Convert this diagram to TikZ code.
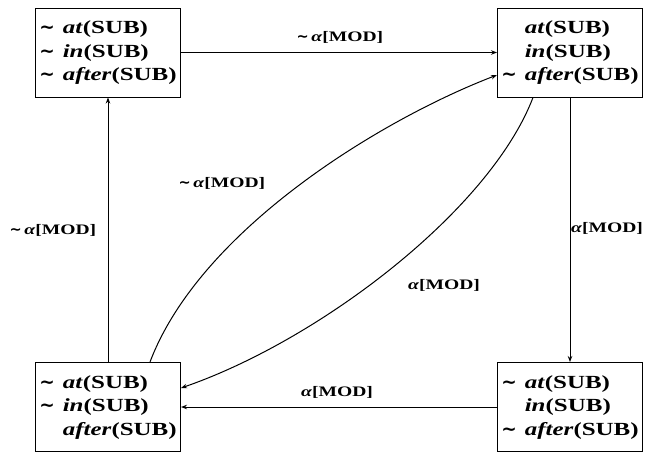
\documentclass[tikz,border=0pt]{standalone}
\usepackage{fontspec}
\setmainfont[FakeStretch=1.35]{Liberation Serif}
\newfontfamily\symf{DejaVu Sans}
\usetikzlibrary{arrows.meta,calc}
\newcommand{\ti}{{\symf\bfseries ∼}}
\tikzset{
  statebox/.style={draw,line width=1pt,minimum width=145pt,minimum height=89pt,inner sep=0pt,
    font=\bfseries\fontsize{18.5}{23.5}\selectfont},
  lab/.style={inner sep=1pt,font=\bfseries\fontsize{14.5}{17}\selectfont},
  arr/.style={line width=1pt,-{Stealth[length=6pt,width=4.5pt]}}
}
\begin{document}
\begin{tikzpicture}[x=1pt,y=-1pt]
\useasboundingbox (0,0) rectangle (648,456);
\node[statebox] (tl) at (108,52.5) {\begin{tabular}{@{}l@{\hspace{8pt}}l@{}}
\ti & \textit{at}(SUB)\\ \ti & \textit{in}(SUB)\\ \ti & \textit{after}(SUB)\end{tabular}};
\node[statebox] (tr) at (570,52.5) {\begin{tabular}{@{}l@{\hspace{8pt}}l@{}}
 & \textit{at}(SUB)\\ & \textit{in}(SUB)\\ \ti & \textit{after}(SUB)\end{tabular}};
\node[statebox] (bl) at (108,407) {\begin{tabular}{@{}l@{\hspace{8pt}}l@{}}
\ti & \textit{at}(SUB)\\ \ti & \textit{in}(SUB)\\ & \textit{after}(SUB)\end{tabular}};
\node[statebox] (br) at (570,407) {\begin{tabular}{@{}l@{\hspace{8pt}}l@{}}
\ti & \textit{at}(SUB)\\ & \textit{in}(SUB)\\ \ti & \textit{after}(SUB)\end{tabular}};

\coordinate (c1s) at ($(bl.north)+(42,0)$);
\coordinate (c1e) at ($(tr.west)+(0,22.5)$);
\coordinate (c2s) at ($(tr.south)+(-37,0)$);
\coordinate (c2e) at ($(bl.east)+(0,-19)$);

\draw[arr] (tl.east) -- (tr.west);
\draw[arr] (bl.north) -- (tl.south);
\draw[arr] (tr.south) -- (br.north);
\draw[arr] (br.west) -- (bl.east);
\draw[arr] (c1s) .. controls (200,230) and (380,120) .. (c1e);
\draw[arr] (c2s) .. controls (490,210) and (320,340) .. (c2e);

\node[lab] (l1) at (340,37) {\ti\,\textit{α}[MOD]};
\node[lab] (l2) at (53,230) {\ti\,\textit{α}[MOD]};
\node[lab] (l3) at (222,183) {\ti\,\textit{α}[MOD]};
\node[lab] (l4) at (444,285) {\textit{α}[MOD]};
\node[lab] (l5) at (607,228) {\textit{α}[MOD]};
\node[lab] (l6) at (337,392) {\textit{α}[MOD]};
\end{tikzpicture}
\end{document}
